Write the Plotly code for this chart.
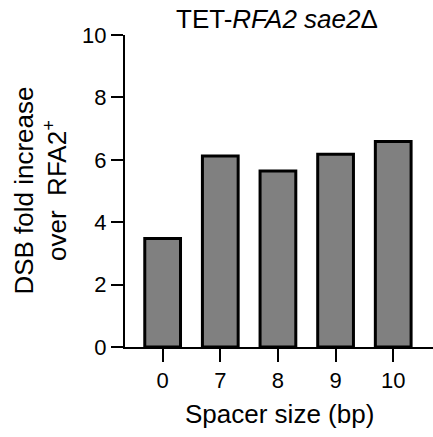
import plotly.graph_objects as go

categories = ["0", "7", "8", "9", "10"]
values = [3.48, 6.12, 5.64, 6.18, 6.59]
y_ticks = [0, 2, 4, 6, 8, 10]

title_text = "TET-<i>RFA2 sae2</i>Δ"
x_title = "Spacer size (bp)"
y_title = "DSB fold increase<br>over  RFA2<sup>+</sup>"

FONT = "Liberation Sans, Arial, sans-serif"

fig = go.Figure()
fig.add_trace(go.Bar(
    x=categories, y=values,
    marker=dict(color="#808080", line=dict(color="black", width=3)),
    width=0.62,
))

fig.update_layout(
    width=433, height=437,
    margin=dict(l=125, r=0, t=35, b=90),
    plot_bgcolor="white", paper_bgcolor="white",
    font=dict(family=FONT, size=22, color="black"),
    showlegend=False,
    xaxis=dict(
        type="category", range=[-0.653, 4.69],
        showline=True, linecolor="black", linewidth=2,
        ticks="outside", ticklen=13, tickwidth=2, tickcolor="black",
        showgrid=False, zeroline=False, tickangle=0,
        tickfont=dict(size=22),
    ),
    yaxis=dict(
        range=[0, 10], tickvals=y_ticks,
        showline=True, linecolor="black", linewidth=2,
        ticks="outside", ticklen=12, tickwidth=2, tickcolor="black",
        showgrid=False, zeroline=False, tickangle=0,
        tickfont=dict(size=22),
    ),
    annotations=[
        dict(text=title_text, xref="paper", yref="paper", x=0.494, y=1.0,
             yshift=-1, xanchor="center", yanchor="bottom", showarrow=False,
             font=dict(size=26)),
        dict(text=x_title, xref="paper", yref="paper", x=0.5, y=-0.215,
             xanchor="center", yanchor="middle", showarrow=False,
             font=dict(size=26)),
        dict(text=y_title, xref="paper", yref="paper", x=-0.274, y=0.5,
             xanchor="center", yanchor="middle", showarrow=False,
             textangle=-90, font=dict(size=26)),
    ],
)

fig.write_html("out.html")
